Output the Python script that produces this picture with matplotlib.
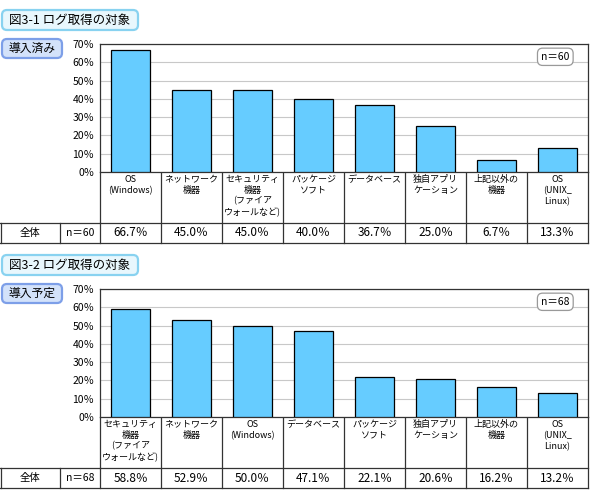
import matplotlib
matplotlib.use("Agg")
import matplotlib.pyplot as plt
from matplotlib.patches import FancyBboxPatch

plt.rcParams["font.family"] = ["Noto Sans CJK JP", "DejaVu Sans"]

# chart 1: 導入済み
cats1 = ["OS\n(Windows)", "ネットワーク\n機器", "セキュリティ\n機器\n(ファイア\nウォールなど)",
         "パッケージ\nソフト", "データベース", "独自アプリ\nケーション", "上記以外の\n機器", "OS\n(UNIX_\nLinux)"]
vals1 = [66.7, 45.0, 45.0, 40.0, 36.7, 25.0, 6.7, 13.3]
n1 = 60

# chart 2: 導入予定
cats2 = ["セキュリティ\n機器\n(ファイア\nウォールなど)", "ネットワーク\n機器", "OS\n(Windows)",
         "データベース", "パッケージ\nソフト", "独自アプリ\nケーション", "上記以外の\n機器", "OS\n(UNIX_\nLinux)"]
vals2 = [58.8, 52.9, 50.0, 47.1, 22.1, 20.6, 16.2, 13.2]
n2 = 68

titles = ["図3-1 ログ取得の対象", "図3-2 ログ取得の対象"]
tags = ["導入済み", "導入予定"]
yticks = [0, 10, 20, 30, 40, 50, 60, 70]

W, H = 590, 500
fig = plt.figure(figsize=(W / 100, H / 100), dpi=100)
fig.patch.set_facecolor("white")

base = fig.add_axes([0, 0, 1, 1])
base.set_xlim(0, W)
base.set_ylim(H, 0)
base.axis("off")

X0, X1 = 100, 588
CW = (X1 - X0) / 8


def px_axes(x0, y0, x1, y1):
    return fig.add_axes([x0 / W, 1 - y1 / H, (x1 - x0) / W, (y1 - y0) / H])


def rbox(x0, y0, x1, y1, fc, ec, lw, r):
    base.add_patch(FancyBboxPatch((x0, y0), x1 - x0, y1 - y0,
                                  boxstyle=f"round,pad=0,rounding_size={r}",
                                  fc=fc, ec=ec, lw=lw, zorder=3))


def panel(off, title, tag, cats, vals, n):
    # title and tag boxes
    rbox(2, 10 + off, 138, 30 + off, "#E8F7FD", "#88D2F0", 1.6, 5)
    base.text(70, 20 + off, title, ha="center", va="center", fontsize=9, zorder=4)
    rbox(2, 39 + off, 62, 58 + off, "#D3E2FA", "#7D9FE8", 1.6, 5)
    base.text(32, 48.5 + off, tag, ha="center", va="center", fontsize=8.5, zorder=4)

    top, bot = 44 + off, 172 + off
    ax = px_axes(X0, top, X1, bot)
    ax.bar(range(len(vals)), vals, width=0.64, color="#66CCFF", edgecolor="black",
           linewidth=0.9, zorder=3)
    ax.set_xlim(-0.5, len(vals) - 0.5)
    ax.set_ylim(0, 70)
    ax.set_yticks(yticks)
    ax.set_yticklabels([f"{t}％" for t in yticks], fontsize=7.5)
    ax.set_xticks([])
    ax.tick_params(axis="y", length=0, pad=4)
    ax.yaxis.grid(True, color="#C8C8C8", linewidth=0.8, zorder=0)
    for s in ax.spines.values():
        s.set_color("#333333")
        s.set_linewidth(0.9)
    ax.text(0.933, 0.9, f"n＝{n}", transform=ax.transAxes, ha="center", va="center",
            fontsize=7.5, zorder=5,
            bbox=dict(boxstyle="round,pad=0.35,rounding_size=0.5", fc="white",
                      ec="#999999", lw=0.9))

    # label area and table row
    ly0, ly1, ty1 = bot, 223 + off, 243 + off
    lc = "#333333"
    base.plot([X0, X0], [ly0, ly1], color=lc, lw=0.9)
    base.plot([X1, X1], [ly0, ty1], color=lc, lw=0.9)
    for i in range(1, len(vals)):
        xb = X0 + CW * i
        base.plot([xb, xb], [ly0, ty1], color=lc, lw=0.9)
    base.plot([0, X1], [ly1, ly1], color=lc, lw=0.9)
    base.plot([0, X1], [ty1, ty1], color=lc, lw=0.9)
    for xb in [0.5, 60, X0]:
        base.plot([xb, xb], [ly1, ty1], color=lc, lw=0.9)
    ty = (ly1 + ty1) / 2
    base.text(30, ty, "全体", ha="center", va="center", fontsize=7.5)
    base.text(80, ty, f"n＝{n}", ha="center", va="center", fontsize=7.5)
    for i, (c, v) in enumerate(zip(cats, vals)):
        xc = X0 + CW * (i + 0.5)
        base.text(xc, ly0 + 3, c, ha="center", va="top", fontsize=6.5, linespacing=1.25)
        base.text(xc, ty, f"{v:.1f}％", ha="center", va="center", fontsize=8.5)


panel(0, titles[0], tags[0], cats1, vals1, n1)
panel(245, titles[1], tags[1], cats2, vals2, n2)

fig.savefig("out.png", dpi=100)
